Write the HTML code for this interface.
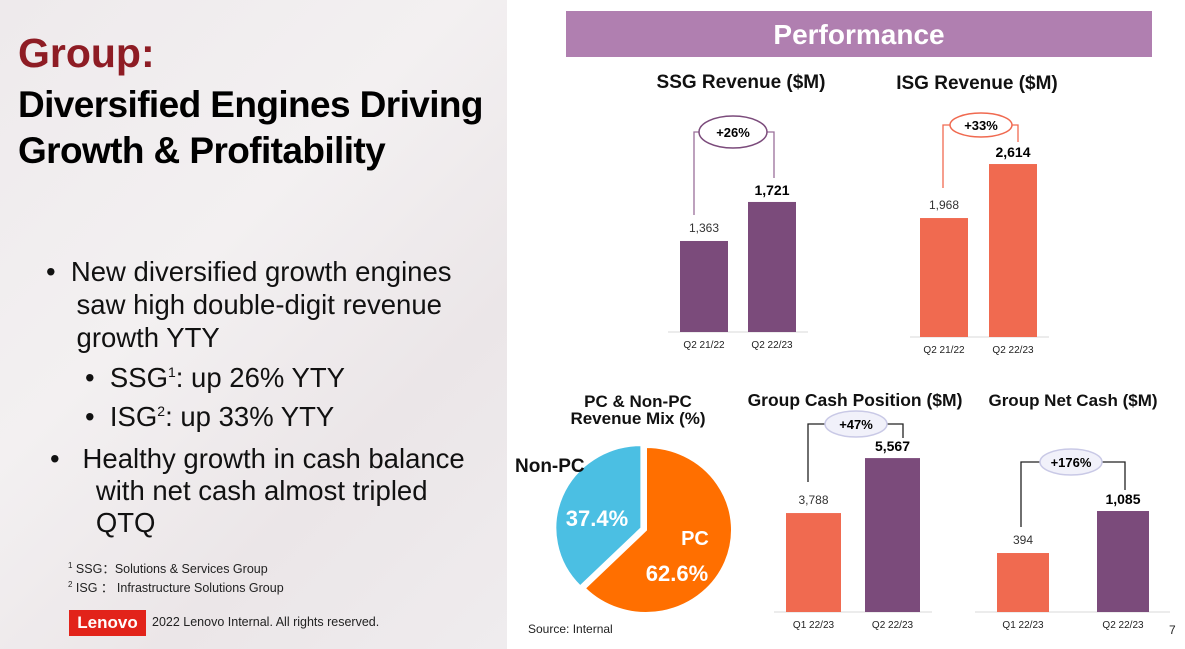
<!DOCTYPE html>
<html><head><meta charset="utf-8"><style>
body{margin:0;width:1185px;height:649px;overflow:hidden;background:#fff;font-family:"Liberation Sans",Arial,sans-serif;position:relative}
.left{position:absolute;left:0;top:0;width:507px;height:649px;background:linear-gradient(135deg,#eeeaec 0%,#f3f0f1 40%,#ebe6e8 70%,#efecee 100%)}
.t{position:absolute;white-space:nowrap;margin:0}
svg{position:absolute;left:0;top:0}
</style></head><body>
<div class="left">
<div class="t" style="left:18px;top:30px;font-size:41px;font-weight:bold;color:#8e1c24">Group:</div>
<div class="t" style="left:18px;top:82px;font-size:37px;font-weight:bold;color:#000;line-height:46px;letter-spacing:-0.6px">Diversified Engines Driving<br>Growth &amp; Profitability</div>
<div class="t" style="left:46px;top:255px;font-size:27.5px;line-height:33px;color:#111">•&nbsp;&nbsp;New diversified growth engines<br>&nbsp;&nbsp;&nbsp;&nbsp;saw high double-digit revenue<br>&nbsp;&nbsp;&nbsp;&nbsp;growth YTY</div>
<div class="t" style="left:85px;top:362px;font-size:27.5px;color:#111">•&nbsp;&nbsp;SSG<sup style="font-size:14px">1</sup>: up 26% YTY</div>
<div class="t" style="left:85px;top:401px;font-size:27.5px;color:#111">•&nbsp;&nbsp;ISG<sup style="font-size:14px">2</sup>: up 33% YTY</div>
<div class="t" style="left:50px;top:443px;font-size:27.5px;line-height:32px;color:#111">•&nbsp;&nbsp;&nbsp;Healthy growth in cash balance<br>&nbsp;&nbsp;&nbsp;&nbsp;&nbsp;&nbsp;with net cash almost tripled<br>&nbsp;&nbsp;&nbsp;&nbsp;&nbsp;&nbsp;QTQ</div>
<div class="t" style="left:68px;top:558px;font-size:12.5px;line-height:15px;color:#222"><sup style="font-size:8px">1</sup> SSG：Solutions &amp; Services Group<br><sup style="font-size:8px">2</sup> ISG ：&nbsp;Infrastructure Solutions Group</div>
<div class="t" style="left:69px;top:610px;width:77px;height:26px;background:#e2231a;color:#fff;font-weight:bold;font-size:17px;line-height:26px;text-align:center">Lenovo</div>
<div class="t" style="left:152px;top:615px;font-size:12.5px;color:#222">2022 Lenovo Internal. All rights reserved.</div>
</div>
<div class="t" style="left:566px;top:11px;width:586px;height:46px;background:#b07fb0;color:#fff;font-weight:bold;font-size:28px;line-height:48px;text-align:center">Performance</div>
<svg id="c" width="1185" height="649"></svg>
<div class="t" style="left:528px;top:622px;font-size:12px;color:#222">Source: Internal</div>
<div class="t" style="left:1169px;top:623px;font-size:12px;color:#222">7</div>
<script>
const ssgCats=["Q2 21/22","Q2 22/23"];
const ssgVals=[1363,1721];
const isgCats=["Q2 21/22","Q2 22/23"];
const isgVals=[1968,2614];
const cashCats=["Q1 22/23","Q2 22/23"];
const cashVals=[3788,5567];
const netCats=["Q1 22/23","Q2 22/23"];
const netVals=[394,1085];
const pieLabels=["PC","Non-PC"];
const pieVals=[62.6,37.4];
const NS="http://www.w3.org/2000/svg";
const svg=document.getElementById('c');
function mk(tag,attrs,name,txt){const e=document.createElementNS(NS,tag);for(const k in attrs)e.setAttribute(k,attrs[k]);


if(txt!==undefined)e.textContent=txt;svg.appendChild(e);return e;}
const P="#7b4b7b",O="#f06a50";
function chart(o){
 const scale=v=>o.k*(v-o.v0);
 mk('line',{x1:o.ax0,x2:o.ax1,y1:o.base,y2:o.base,stroke:'#d8d8d8','stroke-width':1},o.id+'-x-axis');
 mk('text',{x:o.tx,y:o.ty,'font-size':o.fs,'font-weight':'bold','text-anchor':'middle',fill:'#111'},o.id+'-title',o.title);
 o.vals.forEach((v,i)=>{const h=scale(v),x=o.xs[i];
  mk('rect',{x:x,y:o.base-h,width:o.w,height:h,fill:o.cols[i]},o.id+'-bar-'+i);
  mk('text',{x:x+o.w/2,y:o.base-h-(i?7:9),'font-size':i?14:12,'font-weight':i?'bold':'normal','text-anchor':'middle',fill:i?'#000':'#333'},o.id+'-value-'+i,v.toLocaleString('en-US'));
  mk('text',{x:x+o.w/2,y:o.base+16,'font-size':10,'text-anchor':'middle',fill:'#222'},o.id+'-category-'+i,o.cats[i]);
 });
 const b=o.br;
 mk('polyline',{points:`${b.lx},${b.ly} ${b.lx},${b.cy} ${b.cx-b.rx},${b.cy}`,fill:'none',stroke:b.lc,'stroke-width':1.3},o.id+'-bracket-left');
 mk('polyline',{points:`${b.cx+b.rx},${b.cy} ${b.rxl},${b.cy} ${b.rxl},${b.ry2}`,fill:'none',stroke:b.lc,'stroke-width':1.3},o.id+'-bracket-right');
 mk('ellipse',{cx:b.cx,cy:b.cy,rx:b.rx,ry:b.ery,fill:b.fill,stroke:b.ec,'stroke-width':1.5},o.id+'-growth-ellipse');
 mk('text',{x:b.cx,y:b.cy+5,'font-size':13,'font-weight':'bold','text-anchor':'middle',fill:'#000'},o.id+'-growth-label',b.t);
}
chart({id:'ssg',title:'SSG Revenue ($M)',fs:19,tx:741,ty:88,cats:ssgCats,vals:ssgVals,xs:[680,748],w:48,base:332,k:0.109,v0:528,cols:[P,P],ax0:668,ax1:808,
 br:{lx:694,ly:215,cx:733,cy:132,rx:34,ery:16,rxl:774,ry2:178,lc:'#9a6f9a',ec:P,fill:'#fff',t:'+26%'}});
chart({id:'isg',title:'ISG Revenue ($M)',fs:19,tx:977,ty:89,cats:isgCats,vals:isgVals,xs:[920,989],w:48,base:337,k:0.0836,v0:545,cols:[O,O],ax0:910,ax1:1049,
 br:{lx:943,ly:188,cx:981,cy:125,rx:31,ery:12,rxl:1018,ry2:142,lc:O,ec:O,fill:'#fff',t:'+33%'}});
chart({id:'cash',title:'Group Cash Position ($M)',fs:17.5,tx:855,ty:406,cats:cashCats,vals:cashVals,xs:[786,865],w:55,base:612,k:0.0309,v0:586,cols:[O,P],ax0:774,ax1:932,
 br:{lx:808,ly:482,cx:856,cy:424,rx:31,ery:13,rxl:903,ry2:438,lc:'#222',ec:'#c9c9e6',fill:'#f1f1fa',t:'+47%'}});
chart({id:'net',title:'Group Net Cash ($M)',fs:17,tx:1073,ty:406,cats:netCats,vals:netVals,xs:[997,1097],w:52,base:612,k:0.0608,v0:-576,cols:[O,P],ax0:975,ax1:1170,
 br:{lx:1021,ly:527,cx:1071,cy:462,rx:31,ery:13,rxl:1125,ry2:490,lc:'#222',ec:'#c9c9e6',fill:'#f1f1fa',t:'+176%'}});
// pie
mk('text',{x:638,y:407,'font-size':17,'font-weight':'bold','text-anchor':'middle',fill:'#111'},'pie-title-1','PC & Non-PC');
mk('text',{x:638,y:424,'font-size':17,'font-weight':'bold','text-anchor':'middle',fill:'#111'},'pie-title-2','Revenue Mix (%)');
const cx=646,cy=530,rx=86,ry=83,tot=pieVals.reduce((a,b)=>a+b,0);
const pieCols=['#ff6f00','#4bbfe3'];
let a0=0;
pieVals.forEach((v,i)=>{const a1=a0+v/tot*2*Math.PI;const mid=(a0+a1)/2;const off=i?5:0;
 const ox=cx+off*Math.sin(mid),oy=cy-off*Math.cos(mid);
 const p=(a)=>[ox+rx*Math.sin(a),oy-ry*Math.cos(a)];
 const [x0,y0]=p(a0),[x1,y1]=p(a1);
 mk('path',{d:`M${ox},${oy} L${x0},${y0} A${rx},${ry} 0 ${a1-a0>Math.PI?1:0} 1 ${x1},${y1} Z`,fill:pieCols[i],stroke:'#fff','stroke-width':2},'pie-slice-'+pieLabels[i].toLowerCase());
 a0=a1;});
mk('text',{x:695,y:545,'font-size':20,'font-weight':'bold','text-anchor':'middle',fill:'#fff'},'pie-label-pc',pieLabels[0]);
mk('text',{x:677,y:581,'font-size':22,'font-weight':'bold','text-anchor':'middle',fill:'#fff'},'pie-value-pc',pieVals[0].toFixed(1)+'%');
mk('text',{x:597,y:526,'font-size':22,'font-weight':'bold','text-anchor':'middle',fill:'#fff'},'pie-value-nonpc',pieVals[1].toFixed(1)+'%');
mk('text',{x:515,y:472,'font-size':19,'font-weight':'bold',fill:'#111'},'pie-label-nonpc',pieLabels[1]);
</script>
</body></html>
